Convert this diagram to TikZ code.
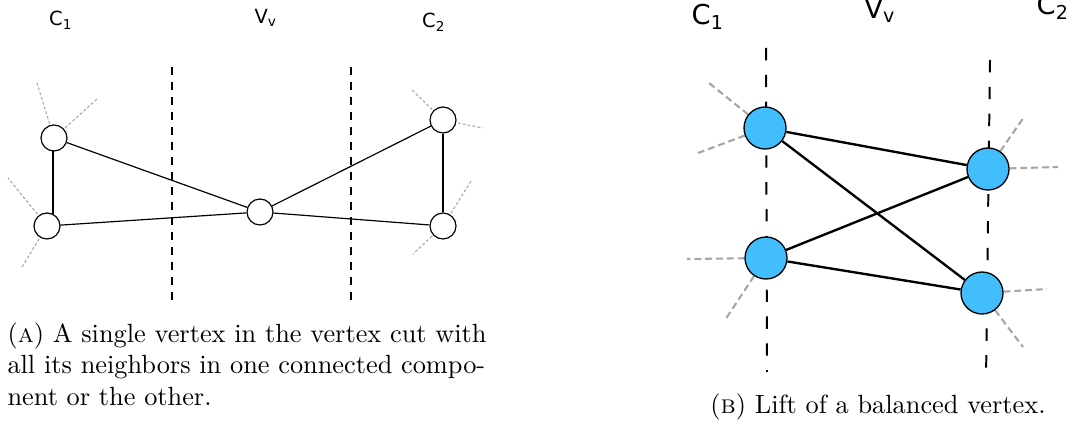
\documentclass[tikz,border=0pt]{standalone}
\usepackage{fontspec}
\newfontfamily\lblfont{DejaVu Sans}
\definecolor{nodeblue}{RGB}{66,190,252}
\begin{document}
\begin{tikzpicture}[x=0.38pt,y=-0.38pt,
  stub/.style={draw=gray!70,dash pattern=on 1.1pt off 0.8pt,line width=0.4pt},
  bstub/.style={draw=gray!70,dash pattern=on 2.6pt off 1.5pt,line width=0.8pt},
  cut/.style={draw=black,dash pattern=on 3.2pt off 2.5pt,line width=0.45pt},
  bcut/.style={draw=black,dash pattern=on 4.7pt off 5.5pt,line width=0.75pt},
  smallv/.style={circle,draw,fill=white,line width=0.45pt,minimum size=26*0.38pt,inner sep=0pt},
  bigv/.style={circle,draw,fill=nodeblue,line width=0.5pt,minimum size=42*0.38pt,inner sep=0pt},
  ledge/.style={draw,line width=0.45pt},
  redge/.style={draw,line width=0.9pt},
  lbls/.style={font=\lblfont\fontsize{7.4}{9}\selectfont,inner sep=0pt},
  lblb/.style={font=\lblfont\fontsize{10.4}{12}\selectfont,inner sep=0pt},
  captext/.style={font=\fontsize{10}{12}\selectfont,inner sep=0pt}]
\useasboundingbox (0,0) rectangle (1073,429);
% ---------- panel A ----------
\node[lbls] (la1) at (61,20) {C\textsubscript{1}};
\node[lbls] (lav) at (266,18) {V\textsubscript{v}};
\node[lbls] (la2) at (434,22) {C\textsubscript{2}};
\coordinate (cat1) at (172,67); \coordinate (cab1) at (172,300);
\coordinate (cat2) at (351,67); \coordinate (cab2) at (351,300);
\draw[cut] (cat1) -- (cab1);
\draw[cut] (cat2) -- (cab2);
\coordinate (s1) at (37,83); \coordinate (s2) at (97,99);
\coordinate (s3) at (8,178); \coordinate (s4) at (22,267);
\coordinate (s5) at (412,90); \coordinate (s6) at (483,128);
\coordinate (s7) at (471,181); \coordinate (s8) at (413,254);
\coordinate (ptl) at (54,138); \coordinate (pbl) at (47,226);
\coordinate (ptr) at (443,120); \coordinate (pbr) at (443,226);
\draw[stub] (ptl) -- (s1); \draw[stub] (ptl) -- (s2);
\draw[stub] (pbl) -- (s3); \draw[stub] (pbl) -- (s4);
\draw[stub] (ptr) -- (s5); \draw[stub] (ptr) -- (s6);
\draw[stub] (pbr) -- (s7); \draw[stub] (pbr) -- (s8);
\node[smallv] (tl) at (ptl) {};
\node[smallv] (bl) at (pbl) {};
\node[smallv] (c) at (260,212) {};
\node[smallv] (tr) at (ptr) {};
\node[smallv] (br) at (pbr) {};
\coordinate (tlb) at (53,151);
\coordinate (blt) at (53,214.5);
\draw[ledge] (tlb) -- (blt);
\draw[ledge] (tl) -- (c);
\draw[ledge] (bl) -- (c);
\draw[ledge] (c) -- (tr);
\draw[ledge] (c) -- (br);
\draw[ledge] (tr) -- (br);
\node[captext,anchor=north west,align=left] (capa) at (7,322) {(\textsc{a}) A single vertex in the vertex cut with\\all its neighbors in one connected compo-\\nent or the other.};
% ---------- panel B ----------
\node[lblb] (lb1) at (708,17) {C\textsubscript{1}};
\node[lblb] (lbv) at (880,11) {V\textsubscript{v}};
\node[lblb] (lb2) at (1053,7) {C\textsubscript{2}};
\coordinate (cbt1) at (766,48); \coordinate (cbb1) at (767,372);
\coordinate (cbt2) at (990,60); \coordinate (cbb2) at (986,380);
\draw[bcut] (cbt1) -- (cbb1);
\draw[bcut] (cbt2) -- (cbb2);
\coordinate (pa) at (765,128); \coordinate (pb) at (988,169);
\coordinate (pc) at (766,258); \coordinate (pd) at (982,293);
\coordinate (t1) at (709,83); \coordinate (t2) at (698,153);
\coordinate (t3) at (1024,117); \coordinate (t4) at (1058,167);
\coordinate (t5) at (687,259); \coordinate (t6) at (725,320);
\coordinate (t7) at (1047,289); \coordinate (t8) at (1023,347);
\draw[bstub] (pa) -- (t1);
\draw[bstub] (pa) -- (t2);
\draw[bstub] (pb) -- (t3);
\draw[bstub] (pb) -- (t4);
\draw[bstub] (pc) -- (t5);
\draw[bstub] (pc) -- (t6);
\draw[bstub] (pd) -- (t7);
\draw[bstub] (pd) -- (t8);
\node[bigv] (a) at (pa) {};
\node[bigv] (b) at (pb) {};
\node[bigv] (cc) at (pc) {};
\node[bigv] (d) at (pd) {};
\draw[redge] (a) -- (b);
\draw[redge] (a) -- (d);
\draw[redge] (cc) -- (b);
\draw[redge] (cc) -- (d);
\node[captext,anchor=base] (capb) at (878,413) {(\textsc{b}) Lift of a balanced vertex.};
\end{tikzpicture}
\end{document}
